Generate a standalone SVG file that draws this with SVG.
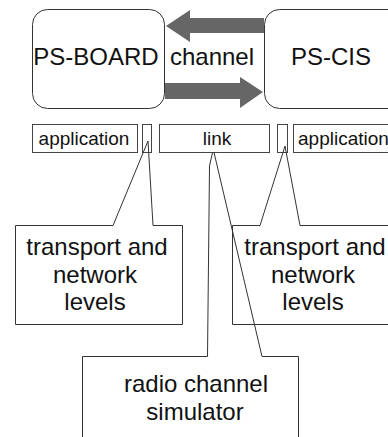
<svg xmlns="http://www.w3.org/2000/svg" width="388" height="437" viewBox="0 0 388 437">
<style>
text{font-family:"Liberation Sans",Arial,sans-serif;fill:#111;text-anchor:middle}
.big{font-size:24px}
.mid{font-size:24px}
.sm{font-size:19px}
.node{fill:none;stroke:#333;stroke-width:1}
.box{fill:none;stroke:#444;stroke-width:1}
.arrow{fill:#666;stroke:none}
.call{fill:none;stroke:#333;stroke-width:1;stroke-linejoin:miter}
</style>
<rect width="388" height="437" fill="#fff"/>
<g id="ps-board">
<rect class="node" x="32.5" y="9.5" width="132" height="99" rx="15"/>
<text class="big" x="96" y="65">PS-BOARD</text>
</g>
<g id="ps-cis">
<rect class="node" x="264.5" y="9.5" width="140" height="99" rx="15"/>
<text class="big" x="331" y="65">PS-CIS</text>
</g>
<g id="channel">
<text class="big" x="212" y="65">channel</text>
</g>
<g id="connectors">
<polygon class="arrow" points="166,26 190,10 190,18 264,18 264,33 190,33 190,42"/>
<polygon class="arrow" points="165,83 240,83 240,77 263,92 240,108 240,99 165,99"/>
</g>
<g id="app-left">
<rect class="box" x="32.5" y="124.5" width="105" height="28"/>
<text class="sm" x="84" y="145">application</text>
</g>
<g id="tn-left-box">
<rect class="box" x="142.5" y="124.5" width="9" height="28"/>
</g>
<g id="link">
<rect class="box" x="159.5" y="124.5" width="110" height="28"/>
<text class="sm" x="217" y="145">link</text>
</g>
<g id="tn-right-box">
<rect class="box" x="277.5" y="124.5" width="10" height="28"/>
</g>
<g id="app-right">
<rect class="box" x="293.5" y="124.5" width="110" height="28"/>
<text class="sm" x="298" y="145" style="text-anchor:start">application</text>
</g>
<g id="callout-left">
<polyline class="call" points="113,225.5 148,141 153,225.5"/>
<path class="call" d="M113,225.5 H15.5 V324.5 H182.5 V225.5 H153"/>
<text class="mid" x="97" y="255">transport and</text>
<text class="mid" x="95" y="283">network</text>
<text class="mid" x="95" y="310">levels</text>
</g>
<g id="callout-right">
<polyline class="call" points="260,225.5 285,146 300,225.5"/>
<path class="call" d="M260,225.5 H232.5 V324.5 H400 M300,225.5 H400"/>
<text class="mid" x="315" y="255">transport and</text>
<text class="mid" x="313" y="283">network</text>
<text class="mid" x="313" y="310">levels</text>
</g>
<g id="callout-bottom">
<polyline class="call" points="207.5,356.5 209.5,166 212.5,152.5 214,152.5 262,356.5"/>
<path class="call" d="M207.5,356.5 H82.5 V445 M262,356.5 H298.5 V445"/>
<text class="mid" x="196" y="392">radio channel</text>
<text class="mid" x="195" y="420">simulator</text>
</g>
</svg>
